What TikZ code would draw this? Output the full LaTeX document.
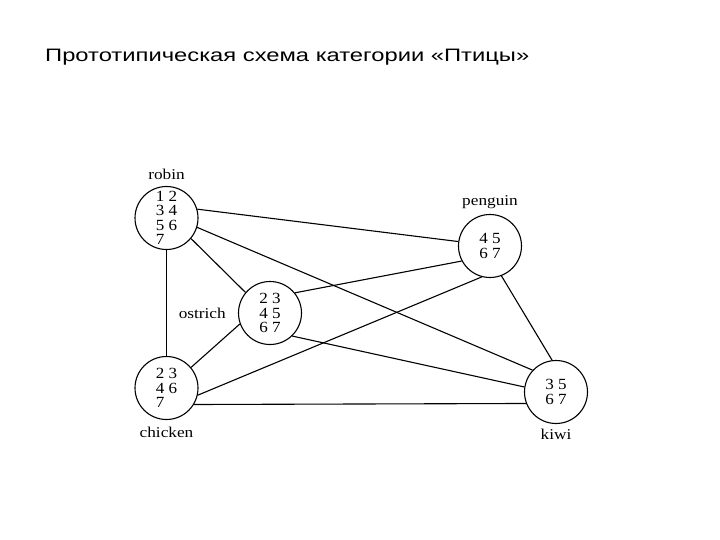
\documentclass[tikz,border=0pt]{standalone}
\usepackage{fontspec}
\setmainfont{Liberation Serif}
\newfontfamily\titlefont{Liberation Sans}[FakeStretch=1.32]
\newfontfamily\birdfont{Liberation Serif}[FakeStretch=1.1]
\newfontfamily\namefont{Liberation Serif}[FakeStretch=1.15]
\usetikzlibrary{positioning}

\begin{document}
\begin{tikzpicture}[x=1pt, y=-1pt,
  bird/.style={circle, draw, line width=1.1pt, minimum size=63pt, inner sep=0pt,
    align=left, font=\birdfont\fontsize{15.5}{14.5}\selectfont},
  lbl/.style={font=\namefont\fontsize{15}{16}\selectfont, inner sep=1pt},
  link/.style={line width=1.1pt}]

\useasboundingbox (0,0) rectangle (720,540);

\node[anchor=base west, inner sep=0pt, font=\titlefont\fontsize{18}{20}\selectfont]
  (title) at (45,62) {Прототипическая схема категории «Птицы»};

% the five birds
\node[bird] (robin)   at (166.5,218) {1 2\\3 4\\5 6\\7};
\node[bird] (penguin) at (490,246) {4 5\\6 7};
\node[bird] (ostrich) at (270,313) {2 3\\4 5\\6 7};
\node[bird] (chicken) at (166.5,388) {2 3\\4 6\\7};
\node[bird] (kiwi)    at (556,392) {3 5\\6 7};

\node[lbl, above=5pt of robin]   (robinlbl)   {robin};
\node[lbl, above=4pt of penguin] (penguinlbl) {penguin};
\node[lbl, left=11pt of ostrich] (ostrichlbl) {ostrich};
\node[lbl, below=6pt of chicken] (chickenlbl) {chicken};
\node[lbl, below=4pt of kiwi]    (kiwilbl)    {kiwi};

\draw[link] (robin.16)    -- (penguin.172);
\draw[link] (robin.-17)   -- (kiwi.137);
\draw[link] (robin.-40)   -- (ostrich.140);
\draw[link] (robin.-90)   -- (chicken.90);
\draw[link] (penguin.208) -- (ostrich.39);
\draw[link] (penguin.-105) -- (chicken.-13);
\draw[link] (penguin.-69) -- (kiwi.97);
\draw[link] (ostrich.200) -- (chicken.40);
\draw[link] (ostrich.-46) -- (kiwi.171);
\draw[link] (chicken.-31) -- (kiwi.201);

\end{tikzpicture}
\end{document}
